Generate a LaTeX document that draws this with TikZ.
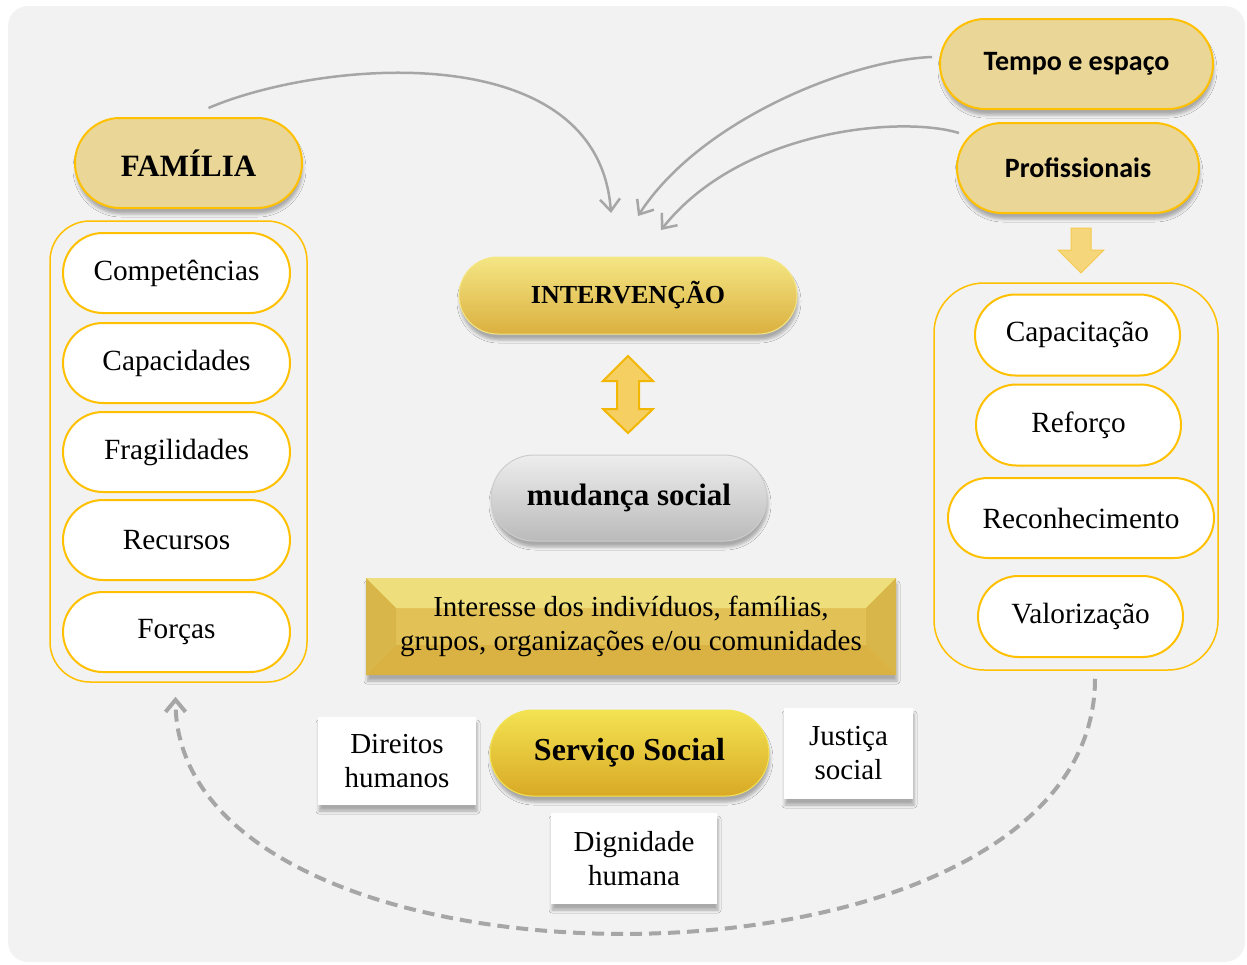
\documentclass[tikz,border=0pt]{standalone}
\usepackage{fontspec}
\setmainfont{Liberation Serif}
\newfontfamily\calibri{Carlito}
\usetikzlibrary{shapes.misc,shadows.blur,arrows.meta}
\definecolor{gold}{HTML}{FFC000}
\definecolor{tan}{HTML}{EAD696}
\definecolor{paper}{HTML}{F2F2F2}
\definecolor{link}{HTML}{A6A6A6}
\definecolor{fat}{HTML}{F5CF62}
\definecolor{fatline}{HTML}{F2B705}
\definecolor{intertop}{HTML}{F4E684}
\definecolor{intermid}{HTML}{E8C85A}
\definecolor{interbot}{HTML}{DBB040}
\definecolor{servtop}{HTML}{F3E352}
\definecolor{servmid}{HTML}{E6C22E}
\definecolor{servbot}{HTML}{D9A925}
\definecolor{bevmid}{HTML}{E2C257}
\definecolor{bevtop}{HTML}{EEDF7C}
\definecolor{bevside}{HTML}{D9B64A}
\definecolor{bevbot}{HTML}{DAB244}
\begin{document}
\begin{tikzpicture}[x=1pt,y=-1pt]
  \tikzstyle{every node}=[inner sep=0pt,align=center]
  \tikzstyle{shade}=[blur shadow={shadow xshift=1pt,shadow yshift=-6pt,shadow blur radius=3pt,shadow opacity=30}]
  \tikzstyle{pill}=[rounded rectangle,draw=gold,line width=2pt,fill=white,minimum width=227pt,minimum height=80pt,font=\fontsize{29.3}{34}\selectfont]
  \tikzstyle{head}=[rounded rectangle,draw=gold,line width=2pt,fill=tan,shade,minimum height=90pt]
  \tikzstyle{frame}=[rectangle,draw=gold,line width=1.5pt]
  \tikzstyle{card}=[rectangle,fill=white,shade,font=\fontsize{29}{34}\selectfont]
  \tikzstyle{link}=[draw=link,line width=2.5pt,-{Straight Barb[length=12pt,width=20pt]}]
  \tikzstyle{fatarrow}=[fill=fat,draw=fatline,line width=2pt,line join=miter]
  \useasboundingbox (0,0) rectangle (1247,964);
  \fill[paper,rounded corners=20pt] (8,6) rectangle (1245,962);
  \node[frame,rounded corners=40pt,minimum width=257pt,minimum height=461pt] (lbox) at (178.5,451.5) {};
  \node[frame,rounded corners=50pt,minimum width=284pt,minimum height=387pt] (rbox) at (1076,476.5) {};
  \node[head,minimum width=227pt,font=\fontsize{31}{36}\selectfont\bfseries] (familia) at (188.5,163) {FAMÍLIA};
  \node[pill] (comp) at (176.5,273) {Competências};
  \node[pill] (capa) at (176.5,363) {Capacidades};
  \node[pill] (frag) at (176.5,452) {Fragilidades};
  \node[pill] (recu) at (176.5,540) {Recursos};
  \node[pill] (forc) at (176.5,632) {Forças};
  \node[head,minimum width=273pt,font=\calibri\fontsize{28}{34}\selectfont\bfseries] (tempo) at (1076.5,64) {Tempo e espaço};
  \node[head,minimum width=242pt,font=\calibri\fontsize{28}{34}\selectfont\bfseries] (prof) at (1078,168) {Profissionais};
  \node[pill,minimum width=205pt,minimum height=81pt] (capac) at (1077.5,335) {Capacitação};
  \node[pill,minimum width=205pt,minimum height=81pt] (refor) at (1078.5,425) {Reforço};
  \node[pill,minimum width=266pt] (recon) at (1081,518) {Reconhecimento};
  \node[pill,minimum width=205pt,minimum height=81pt] (valor) at (1080.5,616.5) {Valorização};
  \node[rounded rectangle,draw=intertop,line width=1pt,shade,top color=intertop,middle color=intermid,bottom color=interbot,minimum width=338pt,minimum height=77pt,font=\fontsize{26}{30}\selectfont\bfseries] (interv) at (628,295.5) {INTERVENÇÃO};
  \node[rounded rectangle,draw=black!20,line width=1pt,shade,top color=black!7,bottom color=black!27,minimum width=276pt,minimum height=86pt,font=\fontsize{31}{36}\selectfont\bfseries] (mudanca) at (629,498) {mudança social};
  \node[rectangle,fill=bevmid,shade,minimum width=530pt,minimum height=97pt,font=\fontsize{29}{34}\selectfont,
    path picture={
      \fill[bevtop] (path picture bounding box.north west) -- (path picture bounding box.north east) -- ([xshift=-30pt,yshift=-30pt]path picture bounding box.north east) -- ([xshift=30pt,yshift=-30pt]path picture bounding box.north west) -- cycle;
      \fill[bevside] (path picture bounding box.north west) -- ([xshift=30pt,yshift=-30pt]path picture bounding box.north west) -- ([xshift=30pt,yshift=30pt]path picture bounding box.south west) -- (path picture bounding box.south west) -- cycle;
      \fill[bevside] (path picture bounding box.north east) -- ([xshift=-30pt,yshift=-30pt]path picture bounding box.north east) -- ([xshift=-30pt,yshift=30pt]path picture bounding box.south east) -- (path picture bounding box.south east) -- cycle;
      \fill[bevbot] (path picture bounding box.south west) -- ([xshift=30pt,yshift=30pt]path picture bounding box.south west) -- ([xshift=-30pt,yshift=30pt]path picture bounding box.south east) -- (path picture bounding box.south east) -- cycle;
    }] (interesse) at (631,626.5) {Interesse dos indivíduos, famílias,\\grupos, organizações e/ou comunidades};
  \node[rounded rectangle,draw=servtop,line width=1pt,shade,top color=servtop,middle color=servmid,bottom color=servbot,minimum width=279pt,minimum height=86pt,font=\fontsize{32}{36}\selectfont\bfseries] (servico) at (629.5,753) {Serviço Social};
  \node[card,minimum width=158pt,minimum height=88pt] (direitos) at (397,761) {Direitos\\humanos};
  \node[card,minimum width=129pt,minimum height=91pt] (justica) at (848.5,753.5) {Justiça\\social};
  \node[card,minimum width=166pt,minimum height=91pt] (dignidade) at (634,858.5) {Dignidade\\humana};
  \draw[fatarrow] (628,356) -- (653,381) -- (639,381) -- (639,409) -- (653,409) -- (628,433) -- (603,409) -- (617,409) -- (617,381) -- (603,381) -- cycle;
  \draw[fatarrow,fill=fat!85!white,draw=fat!80!fatline,line width=1pt] (1071,228) -- (1091,228) -- (1091,250) -- (1104,250) -- (1081,273) -- (1058,250) -- (1071,250) -- cycle;
  \coordinate (in1) at (611,213);
  \coordinate (in2) at (638,216);
  \coordinate (in3) at (661,230);
  \draw[link] ([xshift=20pt,yshift=9pt]familia.north) .. controls (320,60) and (598,35) .. (in1);
  \draw[link] ([xshift=-7pt,yshift=7pt]tempo.west) .. controls (850,60) and (700,120) .. (in2);
  \draw[link] ([xshift=3pt,yshift=35pt]prof.west) .. controls (900,115) and (740,130) .. (in3);
  \draw[link,line width=4pt,dash pattern=on 12pt off 7pt] ([xshift=19pt,yshift=-8pt]rbox.south) .. controls (1095,1015) and (176,1015) .. ([xshift=-3pt,yshift=-14pt]lbox.south);
\end{tikzpicture}
\end{document}
